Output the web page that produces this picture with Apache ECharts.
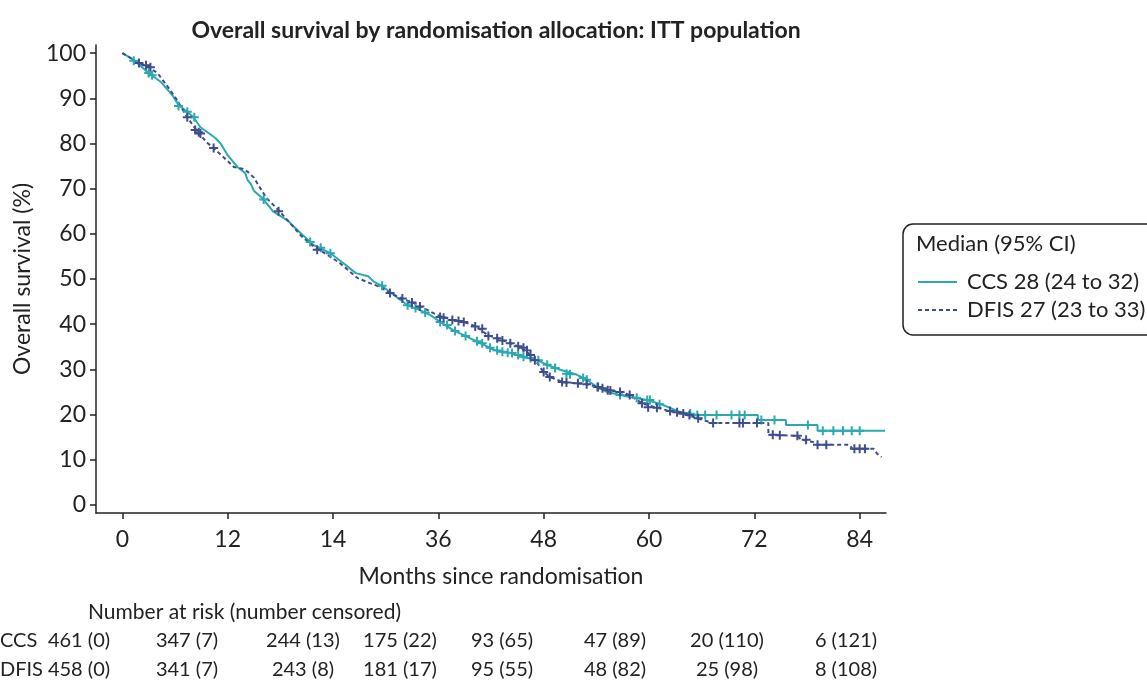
<!DOCTYPE html>
<html>
<head>
<meta charset="utf-8">
<script src="https://cdn.jsdelivr.net/npm/echarts@6/dist/echarts.min.js"></script>
<style>
  html, body { margin: 0; padding: 0; background: #fff; }
  #chart { width: 1147px; height: 690px; }
</style>
</head>
<body>
<div id="chart"></div>
<script>
// 数据：近似值
const xTicks = [0, 12, 24, 36, 48, 60, 72, 84];
const xTickLabels = ['0', '12', '14', '36', '48', '60', '72', '84'];
const yTicks = [0, 10, 20, 30, 40, 50, 60, 70, 80, 90, 100];

const ccsCurve = [[0,100],[0.1,99.8],[1.3,98.5],[3,95.6],[4.4,93.6],[5.7,90.7],[6.4,88.5],[7.4,87],[8.1,85.8],[8.9,83.6],[10.6,81.2],[11.2,80],[12,77.4],[13.1,74.8],[13.7,73.9],[14,73.4],[14.3,71.8],[14.6,71.2],[15,69.5],[16,67.8],[17.2,64.9],[18.8,63],[20.3,60.2],[21.8,57.5],[23.7,55.7],[25.2,53.5],[26.6,51.3],[28,50.6],[28.6,49.5],[29.7,48.3],[30.9,46.5],[32.5,44.2],[33.9,43.1],[35.1,42],[36.2,40.5],[37.7,38.7],[39.3,37.2],[40.8,35.8],[42.3,34.3],[44.2,33.6],[45.7,32.7],[47.2,32.1],[48.4,31],[49.9,29.9],[51.8,28.8],[52.9,27.7],[54.1,26.1],[55.2,25],[57.8,23.9],[59.8,23.2],[61.6,22.1],[63.5,20.6],[64.7,20.2],[65.5,19.9],[72.4,19.9],[72.4,18.8],[75.6,18.8],[75.6,17.7],[79.2,17.7],[79.2,16.4],[86.9,16.4]];

const dfisCurve = [[0,100],[0.1,99.8],[1.9,97.8],[3,96.9],[4,95.6],[5.2,92.5],[6.1,90],[7.4,85.8],[8.6,82.5],[9.7,80.1],[10.4,79],[11.5,77],[12.7,74.8],[13.7,74.4],[14.3,73.7],[15,72.4],[16,69.2],[16.5,67.8],[18,64.8],[19.5,61.5],[20.3,59.7],[21.6,57.5],[23.4,55.3],[24.8,53.5],[26.8,50.2],[28.2,49.1],[29.4,48.2],[30.5,46.9],[31.7,45.8],[33.2,44.7],[34.3,43.6],[35.9,42],[37.7,40.9],[38.9,40.5],[40.4,39.4],[41.6,37.6],[42.7,36.9],[44.2,35.8],[45.5,34.7],[46.5,33.2],[47.2,31.6],[47.9,29.6],[48.7,28.3],[50.2,27.2],[52.9,26.7],[54.1,26.1],[55.2,25.4],[56.7,25],[57.8,24.3],[59.3,22.4],[60.9,21.5],[62.7,20.6],[64.3,19.9],[65.8,19],[67.3,18.1],[73.6,18.1],[73.6,15.5],[76.8,15.3],[77.4,14.4],[78.7,13.9],[79.2,13.3],[82.8,13.3],[83.2,12.4],[85.6,12.4],[86,11.3],[86.5,10.6]];

const ccsCensored = [[1.3,98.3],[3,95.6],[3.4,95.1],[6.4,88.3],[7.4,87],[8.2,85.8],[16.1,67.6],[21.4,58.2],[22.6,56.9],[23.7,55.7],[29.6,48.5],[32.5,44.2],[33.4,43.6],[34.5,42.6],[36.2,40.5],[37,39.8],[37.9,38.5],[39.1,37.4],[40.4,36.2],[41,35.8],[41.9,34.8],[42.7,34.2],[43.3,33.9],[43.9,33.7],[44.4,33.6],[45.1,33.2],[45.7,32.8],[46.5,32.5],[47.4,32],[48.4,31],[49.3,30.3],[50.6,29],[51,28.9],[52.5,28.1],[52.9,27.7],[54.1,26.1],[56.7,24.3],[58.6,23.7],[59.8,23.2],[60.1,23.2],[61.2,22.3],[64.7,20.2],[65.5,19.9],[66.4,19.9],[67.7,19.9],[69.4,19.9],[70.3,19.9],[70.9,19.9],[72.8,18.8],[74.3,18.8],[78.1,17.7],[79.8,16.4],[81,16.4],[82.1,16.4],[83.1,16.4],[84,16.4]];

const dfisCensored = [[1.9,97.8],[2.7,97.3],[3.2,96.9],[7.4,85.8],[8.3,83],[8.7,82.5],[8.9,82.2],[10.4,79],[17.8,65],[22.2,56.5],[30.5,46.9],[31.9,45.7],[33,44.8],[33.9,43.9],[36.2,41.6],[36.6,41.4],[37.6,40.9],[38.3,40.7],[38.9,40.5],[40.2,39.5],[41,39],[41.7,37.4],[42.7,36.9],[43.3,36.4],[44.2,35.8],[45.1,35.1],[45.7,34.8],[46.1,34.2],[46.5,33.2],[47,32],[48,29.4],[48.7,28.3],[50.1,27.2],[50.6,27.1],[51.9,26.9],[52.9,26.7],[54.2,26.1],[54.7,25.8],[55.3,25.4],[55.6,25.3],[56.7,25],[57.8,24.3],[59.2,22.5],[59.9,21.6],[60.9,21.5],[62.4,20.8],[63.2,20.5],[63.9,20.2],[64.6,19.9],[65.6,19.2],[67.3,18.1],[70.3,18.1],[70.7,18.1],[72.3,18.1],[74.1,15.5],[74.9,15.4],[76.9,15.3],[77.9,14.4],[79.2,13.3],[80.2,13.3],[83.4,12.4],[84,12.4],[84.6,12.4]];

const legendTitle = 'Median (95% CI)';
const legendCCS = 'CCS 28 (24 to 32)';
const legendDFIS = 'DFIS 27 (23 to 33)';

const riskTitle = 'Number at risk (number censored)';
const riskGroups = ['CCS', 'DFIS'];
const riskCCS = ['461 (0)', '347 (7)', '244 (13)', '175 (22)', '93 (65)', '47 (89)', '20 (110)', '6 (121)'];
const riskDFIS = ['458 (0)', '341 (7)', '243 (8)', '181 (17)', '95 (55)', '48 (82)', '25 (98)', '8 (108)'];

// 样式
const TEAL = '#2aa9b1';
const NAVY = '#3e4e8a';
const INK = '#222';
const FONT = 'Lato';
const FS = 23;
const RISK_FONT = '20px ' + FONT;
const plusSymbol = 'path://M0,3.9H10V6.1H0Z M3.9,0H6.1V10H3.9Z';

const riskX = [79, 187, 303, 400, 502, 615, 727, 846];

const chart = echarts.init(document.getElementById('chart'));

function label(text, x, y, opts) {
  return Object.assign({ type: 'text', x: x, y: y,
    style: Object.assign({ text: text, font: FS + 'px ' + FONT, fill: INK, verticalAlign: 'middle' }, opts || {}) });
}

const graphics = [
  { type: 'rect', shape: { x: 903, y: 224, width: 270, height: 111, r: 10 },
    style: { fill: 'none', stroke: INK, lineWidth: 1.5 } },
  label(legendTitle, 916, 244, { font: '22px ' + FONT }),
  { type: 'line', shape: { x1: 918, y1: 282, x2: 957, y2: 282 }, style: { stroke: TEAL, lineWidth: 2 } },
  label(legendCCS, 967, 282, { font: '22px ' + FONT }),
  { type: 'line', shape: { x1: 918, y1: 310, x2: 957, y2: 310 }, style: { stroke: NAVY, lineWidth: 2, lineDash: [4, 3] } },
  label(legendDFIS, 967, 310, { font: '22px ' + FONT }),
  label('Months since randomisation', 501, 577, { align: 'center' }),
  label(riskTitle, 88, 612, { font: '21px ' + FONT })
];
[riskCCS, riskDFIS].forEach(function (row, r) {
  const y = 641 + r * 29;
  graphics.push(label(riskGroups[r], 0, y, { font: RISK_FONT }));
  row.forEach(function (v, i) {
    graphics.push(label(v, riskX[i], y, { font: RISK_FONT, align: 'center' }));
  });
});

chart.setOption({
  animation: false,
  textStyle: { fontFamily: FONT },
  title: {
    text: 'Overall survival by randomisation allocation: ITT population',
    left: 491, top: 14, textAlign: 'center',
    textStyle: { fontFamily: FONT, fontSize: 23, fontWeight: 'bold', color: INK }
  },
  grid: { left: 96, right: 261, top: 45, bottom: 177, containLabel: false },
  xAxis: {
    type: 'value', min: -3, max: 87,
    axisLine: { onZero: false, lineStyle: { color: INK, width: 1.5 } },
    axisTick: { show: true, length: 6, lineStyle: { color: INK, width: 1.5 }, customValues: xTicks },
    axisLabel: { fontFamily: FONT, fontSize: FS, color: INK, margin: 15, customValues: xTicks,
      formatter: function (v) { return xTickLabels[xTicks.indexOf(v)]; } },
    splitLine: { show: false }
  },
  yAxis: {
    type: 'value', min: -1.8, max: 101.8,
    name: 'Overall survival (%)', nameLocation: 'middle', nameGap: 62, nameRotate: 90,
    nameTextStyle: { fontFamily: FONT, fontSize: FS, color: INK },
    axisLine: { show: true, onZero: false, lineStyle: { color: INK, width: 1.5 } },
    axisTick: { show: true, length: 6, lineStyle: { color: INK, width: 1.5 }, customValues: yTicks },
    axisLabel: { fontFamily: FONT, fontSize: FS, color: INK, margin: 10, customValues: yTicks },
    splitLine: { show: false }
  },
  series: [
    { name: 'CCS', type: 'line', data: ccsCurve, showSymbol: false, symbol: 'none',
      lineStyle: { color: TEAL, width: 2 }, z: 2 },
    { name: 'DFIS', type: 'line', data: dfisCurve, showSymbol: false, symbol: 'none',
      lineStyle: { color: NAVY, width: 2, type: [4, 3] }, z: 3 },
    { name: 'CCS censored', type: 'scatter', data: ccsCensored, symbol: plusSymbol, symbolSize: 9,
      itemStyle: { color: TEAL, opacity: 1 }, z: 4 },
    { name: 'DFIS censored', type: 'scatter', data: dfisCensored, symbol: plusSymbol, symbolSize: 9,
      itemStyle: { color: NAVY, opacity: 1 }, z: 5 }
  ],
  graphic: graphics
});
</script>
</body>
</html>
